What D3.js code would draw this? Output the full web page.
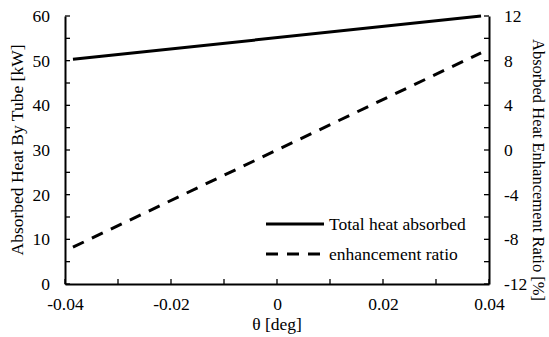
<!DOCTYPE html>
<html><head><meta charset="utf-8">
<script src="https://cdn.jsdelivr.net/npm/d3@7"></script>
</head><body style="margin:0;background:#fff">
<svg id="c" width="549" height="337" style="font-family:'Liberation Serif'"></svg>
<script>
const theta = [-0.0385, 0.0385];
const totalHeat = [50.3, 60.0];
const enhancement = [-8.7, 8.7];
const xTicks = [-0.04, -0.02, 0, 0.02, 0.04];
const yLeftTicks = [0, 10, 20, 30, 40, 50, 60];
const yRightTicks = [-12, -8, -4, 0, 4, 8, 12];
const seriesNames = ["Total heat absorbed", "enhancement ratio"];

const FONT = "Liberation Serif";
const svg = d3.select("#c");
const L = 65, R = 489, T = 16, B = 284;
const x = d3.scaleLinear().domain([-0.04, 0.04]).range([L, R]);
const yL = d3.scaleLinear().domain([0, 60]).range([B, T]);
const yR = d3.scaleLinear().domain([-12, 12]).range([B, T]);

const fmtX = d => d === 0 ? "0" : d3.format(".2f")(d).replace("−", "-");
const fs = 17.5;

// minor ticks
const g = svg.append("g");
g.selectAll(".xm").data(d3.range(-0.04, 0.0401, 0.01)).enter().append("line")
  .attr("x1", d => x(d)).attr("x2", d => x(d)).attr("y1", B).attr("y2", B - 5)
  .attr("stroke", "#000").attr("stroke-width", 1.3);
g.selectAll(".ylm").data(d3.range(0, 60.1, 5)).enter().append("line")
  .attr("x1", L).attr("x2", L + 5).attr("y1", d => yL(d)).attr("y2", d => yL(d))
  .attr("stroke", "#000").attr("stroke-width", 1.3);
g.selectAll(".yrm").data(d3.range(-12, 12.1, 2)).enter().append("line")
  .attr("x1", R).attr("x2", R - 5).attr("y1", d => yR(d)).attr("y2", d => yR(d))
  .attr("stroke", "#000").attr("stroke-width", 1.3);

// axes
const ax = svg.append("g").attr("transform", `translate(0,${B})`)
  .call(d3.axisBottom(x).tickValues(xTicks).tickFormat(fmtX).tickSize(0).tickPadding(14));
const al = svg.append("g").attr("transform", `translate(${L},0)`)
  .call(d3.axisLeft(yL).tickValues(yLeftTicks).tickSize(0).tickPadding(15));
const ar = svg.append("g").attr("transform", `translate(${R},0)`)
  .call(d3.axisRight(yR).tickValues(yRightTicks).tickFormat(d => d3.format("d")(d).replace("−", "-")).tickSize(0).tickPadding(15));
[ax, al, ar].forEach(a => {
  a.attr("font-family", FONT).attr("font-size", fs);
  a.select(".domain").attr("stroke", "#000").attr("stroke-width", 2);
  a.selectAll("text").attr("font-family", FONT).attr("font-size", fs).attr("fill", "#000");
});

// lines
const lineL = d3.line().x((d, i) => x(theta[i])).y(d => yL(d));
const lineR = d3.line().x((d, i) => x(theta[i])).y(d => yR(d));
svg.append("path").attr("d", lineL(totalHeat)).attr("fill", "none").attr("stroke", "#000").attr("stroke-width", 3);
svg.append("path").attr("d", lineR(enhancement)).attr("fill", "none").attr("stroke", "#000").attr("stroke-width", 3)
  .attr("stroke-dasharray", "12,9");

function txt(sel) { return sel.attr("font-family", FONT).attr("fill", "#000"); }
// titles
txt(svg.append("text")).attr("transform", `translate(23,150) rotate(-90)`).attr("text-anchor", "middle")
  .attr("font-size", 17.5).text("Absorbed Heat By Tube [kW]");
txt(svg.append("text")).attr("transform", `translate(533,170) rotate(90)`).attr("text-anchor", "middle")
  .attr("font-size", 16.5).text("Absorbed Heat Enhancement Ratio [%]");
txt(svg.append("text")).attr("x", 277).attr("y", 330).attr("text-anchor", "middle")
  .attr("font-size", 17.5).text("θ [deg]");

// legend
[0, 1].forEach(i => {
  const yy = 224 + i * 30;
  svg.append("line").attr("x1", 266).attr("x2", 324).attr("y1", yy).attr("y2", yy)
    .attr("stroke", "#000").attr("stroke-width", 3).attr("stroke-dasharray", i ? "12,9" : null);
  txt(svg.append("text")).attr("x", 329).attr("y", yy + 6).attr("font-size", 17.5).text(seriesNames[i]);
});
</script>
</body></html>
